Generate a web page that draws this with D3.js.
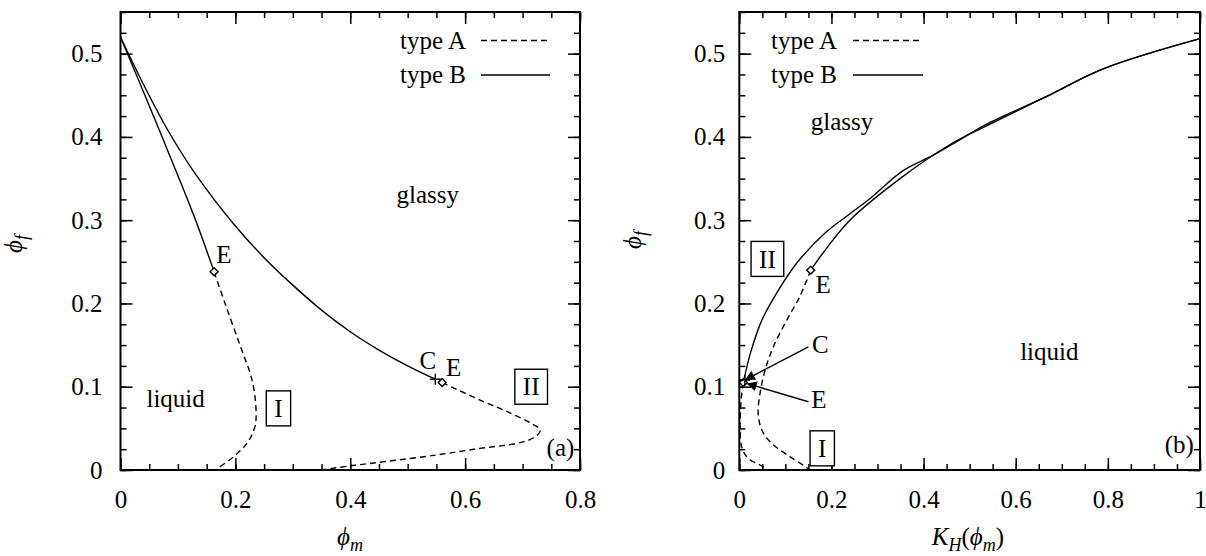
<!DOCTYPE html>
<html>
<head>
<meta charset="utf-8">
<script src="https://cdn.jsdelivr.net/npm/d3@7"></script>
<style>
body { margin: 0; background: #fff; }
text { font-family: "Liberation Serif", "DejaVu Serif", serif; fill: #000; }
</style>
</head>
<body>
<svg id="chart" width="1206" height="556"></svg>
<script>
// panel (a): phi_f against phi_m
var aTypeB1 = [[0, 0.52], [0.04, 0.463], [0.085, 0.405], [0.13, 0.356], [0.2, 0.293], [0.25, 0.255],
	[0.3, 0.222], [0.35, 0.192], [0.4, 0.166], [0.45, 0.144], [0.5, 0.125], [0.548, 0.109]];
var aTypeB2 = [[0, 0.52], [0.07, 0.404], [0.128, 0.305], [0.163, 0.238]];
var aTypeA1 = [[0.163, 0.238], [0.182, 0.200], [0.208, 0.150], [0.229, 0.108], [0.236, 0.072],
	[0.234, 0.052], [0.220, 0.032], [0.197, 0.016], [0.165, 0]];
var aTypeA2 = [[0.560, 0.105], [0.626, 0.084], [0.680, 0.068], [0.715, 0.056], [0.731, 0.048],
	[0.720, 0.039], [0.690, 0.032], [0.626, 0.026], [0.550, 0.018], [0.460, 0.010], [0.400, 0.005], [0.350, 0]];
var aDiamonds = [[0.163, 0.238], [0.560, 0.105]];
var aPlus = [[0.548, 0.109]];

// panel (b): phi_f against K_H(phi_m)
var bTypeB1 = [[0.010, 0.108], [0.024, 0.140], [0.049, 0.180], [0.085, 0.216], [0.124, 0.248],
	[0.185, 0.284], [0.236, 0.306], [0.286, 0.327], [0.354, 0.359], [0.421, 0.378], [0.480, 0.397],
	[0.539, 0.416], [0.665, 0.448], [0.791, 0.482], [1.0, 0.518]];
var bTypeB2 = [[0.155, 0.240], [0.185, 0.263], [0.240, 0.300], [0.354, 0.352], [0.455, 0.390],
	[0.539, 0.414], [0.665, 0.448], [0.791, 0.482], [1.0, 0.518]];
var bTypeA1 = [[0.155, 0.240], [0.131, 0.208], [0.103, 0.180], [0.074, 0.148], [0.056, 0.120],
	[0.045, 0.092], [0.041, 0.068], [0.049, 0.048], [0.070, 0.032], [0.110, 0.016], [0.146, 0.003], [0.152, 0]];
var bTypeA2 = [[0.009, 0.105], [0.005, 0.090], [0.003, 0.076], [0.002, 0.052], [0.005, 0.028],
	[0.019, 0.014], [0.045, 0.006], [0.062, 0]];
var bDiamonds = [[0.155, 0.240], [0.009, 0.105]];
var bPlus = [[0.012, 0.108]];

var yTicks = [0, 0.1, 0.2, 0.3, 0.4, 0.5];
var aXTicks = [0, 0.2, 0.4, 0.6, 0.8];
var bXTicks = [0, 0.2, 0.4, 0.6, 0.8, 1];
var legendNames = ["type A", "type B"];

// text annotations: [x, y, text]
var aNotes = [[0.535, 0.331, "glassy"], [0.096, 0.085, "liquid"], [0.180, 0.258, "E"],
	[0.535, 0.131, "C"], [0.580, 0.123, "E"], [0.766, 0.027, "(a)"]];
var aBoxes = [[0.275, 0.074, "I"], [0.715, 0.100, "II"]];
var bNotes = [[0.223, 0.418, "glassy"], [0.673, 0.142, "liquid"], [0.182, 0.222, "E"],
	[0.176, 0.150, "C"], [0.173, 0.084, "E"], [0.955, 0.030, "(b)"]];
var bBoxes = [[0.061, 0.2535, "II"], [0.180, 0.026, "I"]];
var bArrows = [[0.150, 0.148, 0.012, 0.108], [0.150, 0.082, 0.016, 0.104]];

var svg = d3.select("#chart");

svg.append("defs").append("marker")
	.attr("id", "head")
	.attr("viewBox", "0 0 10 10")
	.attr("refX", 10).attr("refY", 5)
	.attr("markerWidth", 14).attr("markerHeight", 10)
	.attr("markerUnits", "userSpaceOnUse")
	.attr("orient", "auto")
	.append("path")
	.attr("d", "M0,0L10,5L0,10z")
	.attr("fill", "#000");

function panel(cfg) {
	var x = d3.scaleLinear().domain([0, cfg.xmax]).range([cfg.left, cfg.right]);
	var y = d3.scaleLinear().domain([0, 0.55]).range([470, 12]);
	var g = svg.append("g");
	var minorX = d3.range(0, cfg.xmax + 1e-9, 0.05);
	var minorY = d3.range(0, 0.55 + 1e-9, 0.025);

	function ticks(axis, t, size, labels) {
		var a = axis.tickValues(t).tickSize(size);
		if (!labels) a.tickFormat("");
		return a;
	}

	var axes = [
		[d3.axisBottom(x), "translate(0,470)", minorX, cfg.xticks, true, 20],
		[d3.axisTop(x), "translate(0,12)", minorX, cfg.xticks, false, 0],
		[d3.axisLeft(y), "translate(" + cfg.left + ",0)", minorY, yTicks, true, cfg.padY],
		[d3.axisRight(y), "translate(" + cfg.right + ",0)", minorY, yTicks, false, 0]
	];
	axes.forEach(function(d) {
		var minor = g.append("g").attr("transform", d[1])
			.call(ticks(d[0].tickPadding(0), d[2], -6, false));
		minor.select(".domain").remove();
		var major = g.append("g").attr("transform", d[1])
			.call(ticks(d[0].tickPadding(d[5]), d[3], -12, d[4]));
		major.select(".domain").remove();
		major.attr("font-family", null).attr("font-size", 25);
		major.selectAll("line").attr("stroke-width", 1.5);
		minor.selectAll("line").attr("stroke-width", 1.5);
		major.selectAll("text").attr("font-size", 25)
			.text(function(v) { return d[4] ? d3.format("")(+v.toFixed(2)) : ""; });
	});

	g.append("rect")
		.attr("x", cfg.left).attr("y", 12)
		.attr("width", cfg.right - cfg.left).attr("height", 458)
		.attr("fill", "none").attr("stroke", "#000").attr("stroke-width", 2);

	var line = d3.line().curve(d3.curveCatmullRom.alpha(0.5))
		.x(function(d) { return x(d[0]); }).y(function(d) { return y(d[1]); });

	cfg.solid.forEach(function(s) {
		g.append("path").attr("d", line(s)).attr("fill", "none")
			.attr("stroke", "#000").attr("stroke-width", 1.4);
	});
	cfg.dashed.forEach(function(s) {
		g.append("path").attr("d", line(s)).attr("fill", "none")
			.attr("stroke", "#000").attr("stroke-width", 1.4).attr("stroke-dasharray", "6,4");
	});

	// legend
	legendNames.forEach(function(name, i) {
		var ly = 40.5 + i * 34.5;
		g.append("text").attr("x", cfg.legendText).attr("y", ly).attr("dy", "0.33em")
			.attr("text-anchor", "end").attr("font-size", 25).text(name);
		g.append("line").attr("x1", cfg.legendLine[0]).attr("x2", cfg.legendLine[1])
			.attr("y1", ly).attr("y2", ly).attr("stroke", "#000").attr("stroke-width", 1.4)
			.attr("stroke-dasharray", i === 0 ? "6,4" : null);
	});

	(cfg.arrows || []).forEach(function(a) {
		g.append("line")
			.attr("x1", x(a[0])).attr("y1", y(a[1]))
			.attr("x2", x(a[2])).attr("y2", y(a[3]))
			.attr("stroke", "#000").attr("stroke-width", 1.4)
			.attr("marker-end", "url(#head)");
	});

	g.selectAll(".diamond").data(cfg.diamonds).enter().append("path")
		.attr("d", d3.symbol(d3.symbolDiamond2, 40))
		.attr("transform", function(d) { return "translate(" + x(d[0]) + "," + y(d[1]) + ")"; })
		.attr("fill", "#fff").attr("stroke", "#000").attr("stroke-width", 1.4);
	g.selectAll(".plus").data(cfg.plus).enter().append("path")
		.attr("d", d3.symbol(d3.symbolPlus, 40))
		.attr("transform", function(d) { return "translate(" + x(d[0]) + "," + y(d[1]) + ")"; })
		.attr("fill", "none").attr("stroke", "#000").attr("stroke-width", 1.4);

	cfg.notes.forEach(function(n) {
		g.append("text").attr("x", x(n[0])).attr("y", y(n[1])).attr("dy", "0.33em")
			.attr("text-anchor", "middle").attr("font-size", 25).text(n[2]);
	});
	cfg.boxes.forEach(function(b) {
		var t = g.append("text").attr("x", x(b[0])).attr("y", y(b[1])).attr("dy", "0.35em")
			.attr("text-anchor", "middle").attr("font-size", 25).text(b[2]);
		var bb = t.node().getBBox();
		var w = bb.width + 16, h = 35;
		g.insert("rect", function() { return t.node(); })
			.attr("x", x(b[0]) - w / 2).attr("y", y(b[1]) - h / 2)
			.attr("width", w).attr("height", h)
			.attr("fill", "#fff").attr("stroke", "#000").attr("stroke-width", 1.4);
	});

	// axis titles
	var yl = g.append("text")
		.attr("transform", "translate(" + cfg.ylab[0] + "," + cfg.ylab[1] + ") rotate(-90)")
		.attr("text-anchor", "middle").attr("font-size", 25);
	yl.append("tspan").attr("font-style", "italic").text("ϕ");
	yl.append("tspan").attr("font-style", "italic").attr("font-size", 18).attr("dy", 6).text("f");

	var xl = g.append("text").attr("x", cfg.xlab[0]).attr("y", cfg.xlab[1])
		.attr("text-anchor", "middle").attr("font-size", 25);
	cfg.xparts.forEach(function(p) {
		var ts = xl.append("tspan").text(p[0]);
		if (p[1]) ts.attr("font-style", "italic");
		if (p[2]) ts.attr("font-size", 18);
		ts.attr("dy", p[3]);
	});
}

panel({
	left: 120.5, right: 580, xmax: 0.8, xticks: aXTicks, padY: 18,
	solid: [aTypeB1, aTypeB2], dashed: [aTypeA1, aTypeA2],
	diamonds: aDiamonds, plus: aPlus, notes: aNotes, boxes: aBoxes,
	legendText: 466, legendLine: [481, 550],
	ylab: [22, 244], xlab: [350, 545],
	xparts: [["ϕ", true, false, 0], ["m", true, true, 6]]
});

panel({
	left: 739.3, right: 1200, xmax: 1, xticks: bXTicks, padY: 14,
	solid: [bTypeB1, bTypeB2], dashed: [bTypeA1, bTypeA2],
	diamonds: bDiamonds, plus: bPlus, notes: bNotes, boxes: bBoxes, arrows: bArrows,
	legendText: 837, legendLine: [853, 923],
	ylab: [641, 240], xlab: [968, 545],
	xparts: [["K", true, false, 0], ["H", true, true, 6], ["(", false, false, -6],
		["ϕ", true, false, 0], ["m", true, true, 6], [")", false, false, -6]]
});
</script>
</body>
</html>
